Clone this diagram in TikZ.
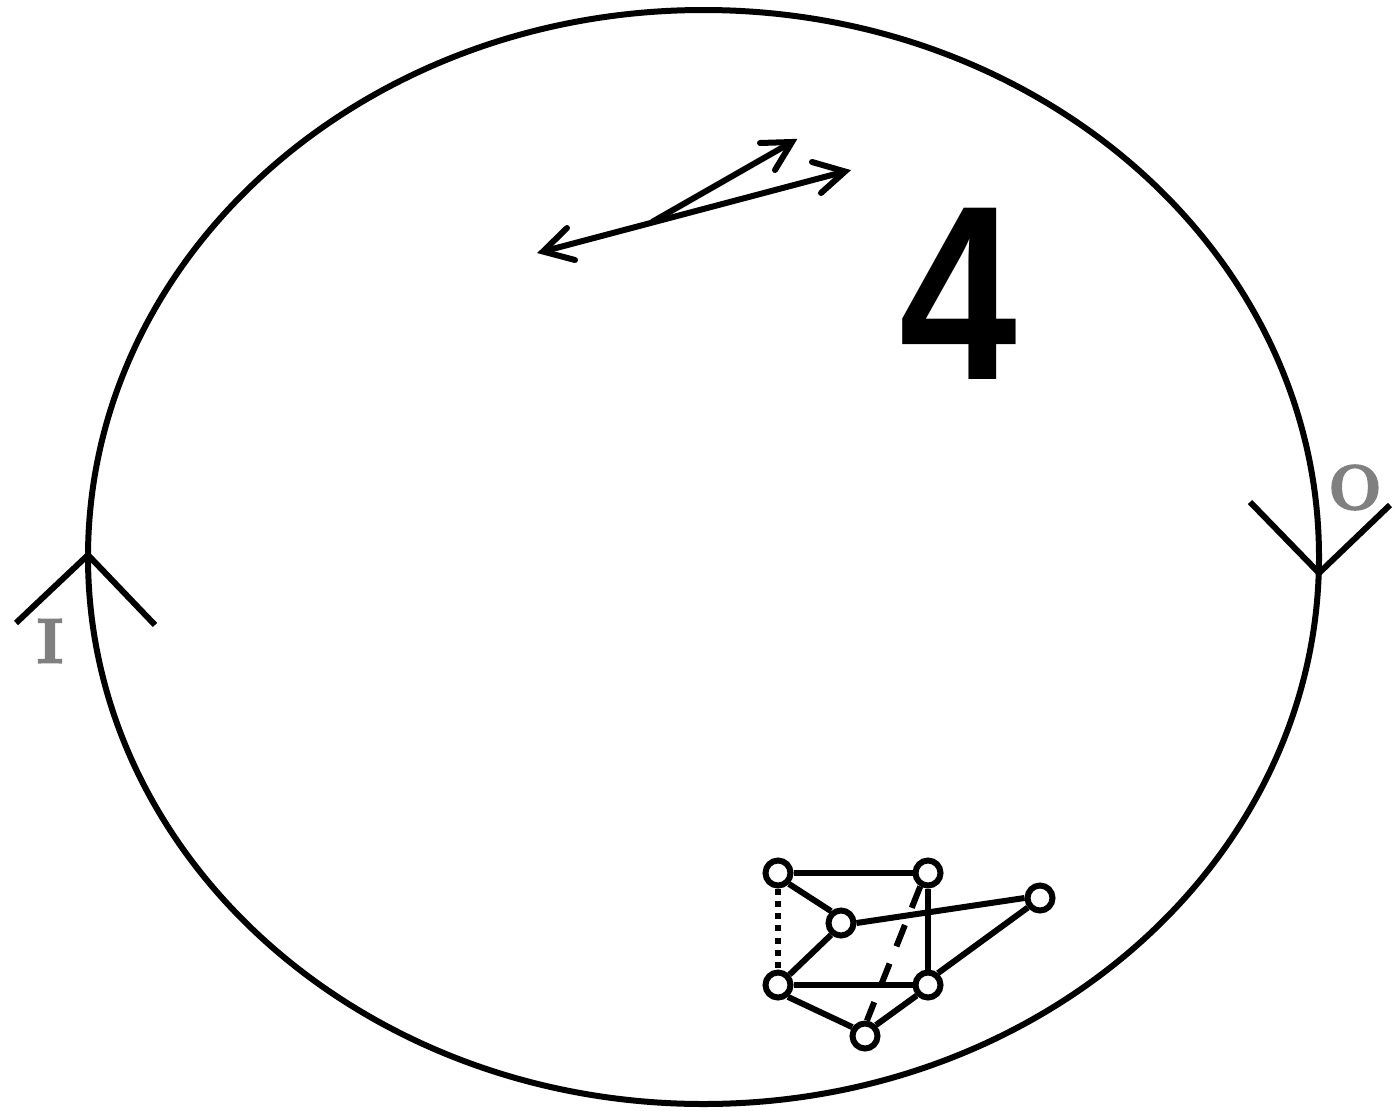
\documentclass[tikz,border=0pt]{standalone}
\usepackage{fontspec}
\newfontfamily\lblfont[BoldFeatures={FakeBold=3}]{Latin Modern Roman}
\newfontfamily\digitfont{Liberation Sans}
\definecolor{labelgray}{gray}{0.5}
\tikzset{
  lw/.style={line width=6pt},
  vert/.style={circle,draw=black,fill=white,line width=6pt,minimum size=25pt,inner sep=0pt},
  tipline/.style={lw,line join=miter,miter limit=10},
  lbl/.style={inner sep=0pt,text=labelgray,font=\lblfont\bfseries\fontsize{63}{63}\selectfont}
}
\begin{document}
\begin{tikzpicture}[x=1pt,y=-1pt]
\useasboundingbox (0,0) rectangle (1395,1111);
% big ellipse
\draw[lw] (703.5,557) ellipse [x radius=615.5, y radius=547];
% wedges
\coordinate (i0) at (88,555);
\coordinate (i1) at (16,623);
\coordinate (i2) at (155,625);
\coordinate (o0) at (1319,573);
\coordinate (o1) at (1250,502);
\coordinate (o2) at (1390,505);
\draw[tipline] (i1) -- (i0) -- (i2);
\draw[tipline] (o1) -- (o0) -- (o2);
\node[lbl] (labI) at (50,641) {I};
\node[lbl] (labO) at (1355,487.5) {O};
\node[inner sep=0pt,font=\digitfont\bfseries\fontsize{249}{249}\selectfont,xscale=0.85,transform shape] (four) at (958.5,294) {4};
% arrows
\coordinate (base) at (652,222);
\coordinate (t1) at (792,142);
\coordinate (t2) at (845,171.5);
\coordinate (t3) at (543,251.5);
\draw[lw] (base) -- (t1);
\draw[lw] (t3) -- (t2);
\draw[tipline,line cap=round] (760,143) -- (t1) -- (775,170);
\draw[tipline,line cap=round] (812,162) -- (t2) -- (821,193);
\draw[tipline,line cap=round] (567,228) -- (t3) -- (575,260);
% small graph
\node[vert] (A) at (778,873) {};
\node[vert] (B) at (928,873) {};
\node[vert] (C) at (841,923) {};
\node[vert] (D) at (1040,898) {};
\node[vert] (E) at (778,985) {};
\node[vert] (F) at (928,985) {};
\node[vert] (G) at (865,1036) {};
\draw[lw] (A) -- (B);
\draw[lw] (A.-45) -- (C.130);
\draw[lw] (C.230) -- (E.42);
\draw[lw] (C.east) -- (D.west);
\draw[lw] (D.218) -- (F.50);
\draw[lw] (B) -- (F);
\draw[lw] (E) -- (F);
\draw[lw] (E.-50) -- (G.145);
\draw[lw] (F.223) -- (G.45);
\draw[lw,dash pattern=on 6pt off 6.3pt] (A) -- (E);
\draw[lw,dash pattern=on 23pt off 18.5pt] (B.240) -- (G.83);
\end{tikzpicture}
\end{document}
